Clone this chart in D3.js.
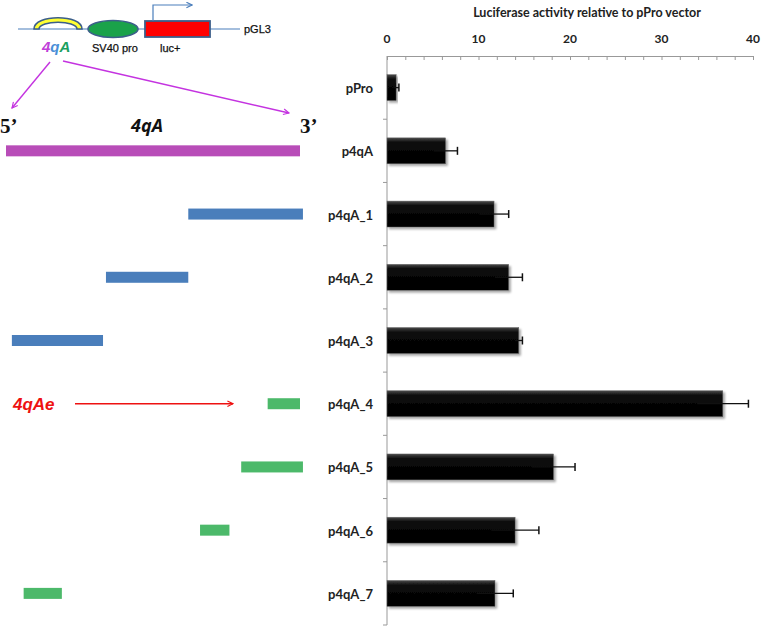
<!DOCTYPE html>
<html>
<head>
    <script src="https://d3js.org/d3.v7.min.js"></script>
    <style>
        body { margin: 0; background: #fff; }
    </style>
</head>
<body>
    <div id="chart"></div>

    <script>
        // bar chart data
        const constructs = ["pPro", "p4qA", "p4qA_1", "p4qA_2", "p4qA_3", "p4qA_4", "p4qA_5", "p4qA_6", "p4qA_7"];
        const activity   = [1.0, 6.4, 11.7, 13.3, 14.4, 36.7, 18.2, 14.0, 11.8];
        const errors     = [0.3, 1.3, 1.6, 1.5, 0.4, 2.8, 2.35, 2.6, 2.0];
        const xTicks     = [0, 10, 20, 30, 40];

        // fragments of 4qA (percent of full region, 5' -> 3')
        const fragNames  = ["p4qA", "p4qA_1", "p4qA_2", "p4qA_3", "p4qA_4", "p4qA_5", "p4qA_6", "p4qA_7"];
        const fragStart  = [0, 62, 34, 2, 89, 80, 66, 6];
        const fragEnd    = [100, 101, 62, 33, 100, 101, 76, 19];
        const fragColor  = ["#b84db8", "#4a7ebb", "#4a7ebb", "#4a7ebb", "#4cb96a", "#4cb96a", "#4cb96a", "#4cb96a"];

        const W = 761, H = 627;

        const svg = d3.select("#chart")
            .append("svg")
            .attr("width", W)
            .attr("height", H);

        const defs = svg.append("defs");
        const shadow = defs.append("filter").attr("id", "shadow")
            .attr("x", "-10%").attr("y", "-20%").attr("width", "130%").attr("height", "160%");
        shadow.append("feDropShadow")
            .attr("dx", 2).attr("dy", 2).attr("stdDeviation", 1.2)
            .attr("flood-color", "#000").attr("flood-opacity", 0.35);

        const grad = defs.append("linearGradient").attr("id", "barGrad")
            .attr("x1", 0).attr("y1", 0).attr("x2", 0).attr("y2", 1);
        grad.append("stop").attr("offset", "0%").attr("stop-color", "#4a4a4a");
        grad.append("stop").attr("offset", "18%").attr("stop-color", "#0a0a0a");
        grad.append("stop").attr("offset", "100%").attr("stop-color", "#000");

        ////////////////////////////////////////////////////////////////////////////////
        // scales

        const x = d3.scaleLinear().domain([0, 40]).range([387, 753]);
        const y = d3.scaleBand().domain(constructs).range([56, 625]).paddingInner(0.59).paddingOuter(0.295);
        const yRow = d3.scaleBand().domain(constructs).range([56, 625]);

        // fragment scale: 0% at 5' end, 100% at 3' end
        const fx = d3.scaleLinear().domain([0, 100]).range([6, 300]);

        ////////////////////////////////////////////////////////////////////////////////
        // bar chart

        svg.append("text")
            .attr("x", 587).attr("y", 17)
            .attr("text-anchor", "middle")
            .style("font-family", "Lato, sans-serif")
            .style("font-weight", "bold")
            .style("font-size", "12.5px")
            .attr("fill", "#222")
            .text("Luciferase activity relative to pPro vector");

        const xAxis = svg.append("g")
            .attr("transform", "translate(0,56)")
            .call(d3.axisBottom(x).tickValues(d3.range(0, 41, 2)).tickSize(4).tickFormat(""));
        xAxis.selectAll("line, path").attr("stroke", "#999");

        svg.selectAll(".xlab")
            .data(xTicks)
            .enter()
            .append("text")
            .attr("x", d => x(d))
            .attr("y", 43)
            .attr("text-anchor", "middle")
            .style("font-family", "Lato, sans-serif")
            .style("font-weight", "bold")
            .style("font-size", "12px")
            .attr("fill", "#222")
            .text(d => d);

        // vertical axis with category separators
        svg.append("line")
            .attr("x1", x(0)).attr("x2", x(0))
            .attr("y1", 56).attr("y2", 625)
            .attr("stroke", "#999");

        svg.selectAll(".ytick")
            .data(constructs)
            .enter()
            .append("line")
            .attr("x1", x(0) - 4).attr("x2", x(0))
            .attr("y1", d => yRow(d) + yRow.bandwidth())
            .attr("y2", d => yRow(d) + yRow.bandwidth())
            .attr("stroke", "#999");

        svg.selectAll(".ylab")
            .data(constructs)
            .enter()
            .append("text")
            .attr("x", 373)
            .attr("y", d => y(d) + y.bandwidth() / 2 + 1)
            .attr("dy", "0.35em")
            .attr("text-anchor", "end")
            .style("font-family", "Lato, sans-serif")
            .style("font-weight", "bold")
            .style("font-size", "13px")
            .attr("fill", "#222")
            .text(d => d);

        svg.selectAll(".bar")
            .data(constructs)
            .enter()
            .append("rect")
            .attr("x", x(0))
            .attr("y", d => y(d))
            .attr("width", (d, i) => x(activity[i]) - x(0))
            .attr("height", y.bandwidth())
            .attr("fill", "url(#barGrad)")
            .attr("stroke", "#666")
            .attr("stroke-width", 0.5)
            .attr("filter", "url(#shadow)");

        // error bars
        const eb = svg.selectAll(".err")
            .data(constructs)
            .enter()
            .append("g");
        eb.append("line")
            .attr("x1", (d, i) => x(activity[i] - errors[i]))
            .attr("x2", (d, i) => x(activity[i] + errors[i]))
            .attr("y1", d => y(d) + y.bandwidth() / 2)
            .attr("y2", d => y(d) + y.bandwidth() / 2)
            .attr("stroke", "#111")
            .attr("stroke-width", 1.3);
        eb.append("line")
            .attr("x1", (d, i) => x(activity[i] + errors[i]))
            .attr("x2", (d, i) => x(activity[i] + errors[i]))
            .attr("y1", d => y(d) + y.bandwidth() / 2 - 4)
            .attr("y2", d => y(d) + y.bandwidth() / 2 + 4)
            .attr("stroke", "#111")
            .attr("stroke-width", 1.5);

        ////////////////////////////////////////////////////////////////////////////////
        // plasmid sketch

        const arrow = (id, color) => {
            const m = defs.append("marker").attr("id", id)
                .attr("viewBox", "0 0 10 10").attr("refX", 9).attr("refY", 5)
                .attr("markerWidth", 7).attr("markerHeight", 7)
                .attr("markerUnits", "userSpaceOnUse")
                .attr("orient", "auto");
            m.append("path").attr("d", "M1,1 L9,5 L1,9")
                .attr("fill", "none").attr("stroke", color).attr("stroke-width", 1.6);
        };
        arrow("arrPurple", "#c433e0");
        arrow("arrRed", "#ee1111");
        arrow("arrBlue", "#4a7ebb");

        const plasmid = svg.append("g");
        plasmid.append("line")
            .attr("x1", 18).attr("x2", 240).attr("y1", 29).attr("y2", 29)
            .attr("stroke", "#4a7ebb").attr("stroke-width", 1.2);

        // yellow arch (4qA insert)
        const archPath = "M34,29 C34,14 82,14 82,29 L77,29 C77,20 39,20 39,29 Z";
        plasmid.append("path").attr("d", archPath)
            .attr("fill", "#ffff33").attr("stroke", "#3c5f8a").attr("stroke-width", 1.6);

        plasmid.append("ellipse")
            .attr("cx", 113).attr("cy", 29).attr("rx", 25).attr("ry", 8.5)
            .attr("fill", "#1aa24a").attr("stroke", "#3c5f8a").attr("stroke-width", 1.6);

        plasmid.append("rect")
            .attr("x", 145).attr("y", 21).attr("width", 65).attr("height", 16)
            .attr("fill", "#ff0000").attr("stroke", "#3c5f8a").attr("stroke-width", 1.8);

        plasmid.append("path")
            .attr("d", "M153,21 L153,5 L192,5")
            .attr("fill", "none").attr("stroke", "#4a7ebb").attr("stroke-width", 1.2)
            .attr("marker-end", "url(#arrBlue)");

        const lbl4qA = plasmid.append("text")
            .attr("x", 42).attr("y", 52)
            .style("font-family", "'Liberation Sans', Arial, sans-serif")
            .style("font-style", "italic")
            .style("font-weight", "bold")
            .style("font-size", "15px");
        lbl4qA.append("tspan").attr("fill", "#c040d8").text("4");
        lbl4qA.append("tspan").attr("fill", "#4a8fd8").text("q");
        lbl4qA.append("tspan").attr("fill", "#1aa060").text("A");

        const smallText = (tx, ty, s) => plasmid.append("text")
            .attr("x", tx).attr("y", ty)
            .style("font-family", "'Liberation Sans', Arial, sans-serif")
            .style("font-size", "11px")
            .attr("fill", "#111")
            .attr("stroke", "#111").attr("stroke-width", 0.25)
            .text(s);
        smallText(92, 52, "SV40 pro");
        smallText(160, 52, "luc+");
        smallText(244, 33, "pGL3");

        // zoom-out arrows
        plasmid.append("line")
            .attr("x1", 50).attr("y1", 62).attr("x2", 12).attr("y2", 108)
            .attr("stroke", "#c433e0").attr("stroke-width", 1.4)
            .attr("marker-end", "url(#arrPurple)");
        plasmid.append("line")
            .attr("x1", 63).attr("y1", 61).attr("x2", 289).attr("y2", 113)
            .attr("stroke", "#c433e0").attr("stroke-width", 1.4)
            .attr("marker-end", "url(#arrPurple)");

        ////////////////////////////////////////////////////////////////////////////////
        // fragment map

        svg.append("text")
            .attr("x", 0).attr("y", 133)
            .style("font-family", "'Liberation Serif', serif")
            .style("font-weight", "bold")
            .style("font-size", "21px")
            .attr("fill", "#111")
            .text("5\u2019");
        svg.append("text")
            .attr("x", 300).attr("y", 133)
            .style("font-family", "'Liberation Serif', serif")
            .style("font-weight", "bold")
            .style("font-size", "21px")
            .attr("fill", "#111")
            .text("3\u2019");
        svg.append("text")
            .attr("x", 147).attr("y", 132)
            .attr("text-anchor", "middle")
            .style("font-family", "'Open Sans', sans-serif")
            .style("font-weight", "bold")
            .style("font-style", "italic")
            .style("font-size", "18px")
            .attr("fill", "#111")
            .text("4qA");

        svg.selectAll(".frag")
            .data(fragNames)
            .enter()
            .append("rect")
            .attr("x", (d, i) => fx(fragStart[i]))
            .attr("width", (d, i) => fx(fragEnd[i]) - fx(fragStart[i]))
            .attr("y", d => yRow(d) + yRow.bandwidth() / 2 - 5.5)
            .attr("height", 11)
            .attr("fill", (d, i) => fragColor[i]);

        // enhancer label
        const yE = yRow("p4qA_4") + yRow.bandwidth() / 2;
        svg.append("text")
            .attr("x", 13).attr("y", yE + 6)
            .style("font-family", "'Liberation Sans', Arial, sans-serif")
            .style("font-weight", "bold")
            .style("font-style", "italic")
            .style("font-size", "17px")
            .attr("fill", "#ee1111")
            .text("4qAe");
        svg.append("line")
            .attr("x1", 75).attr("x2", 233)
            .attr("y1", yE).attr("y2", yE)
            .attr("stroke", "#ee1111").attr("stroke-width", 1.5)
            .attr("marker-end", "url(#arrRed)");
    </script>
</body>
</html>
